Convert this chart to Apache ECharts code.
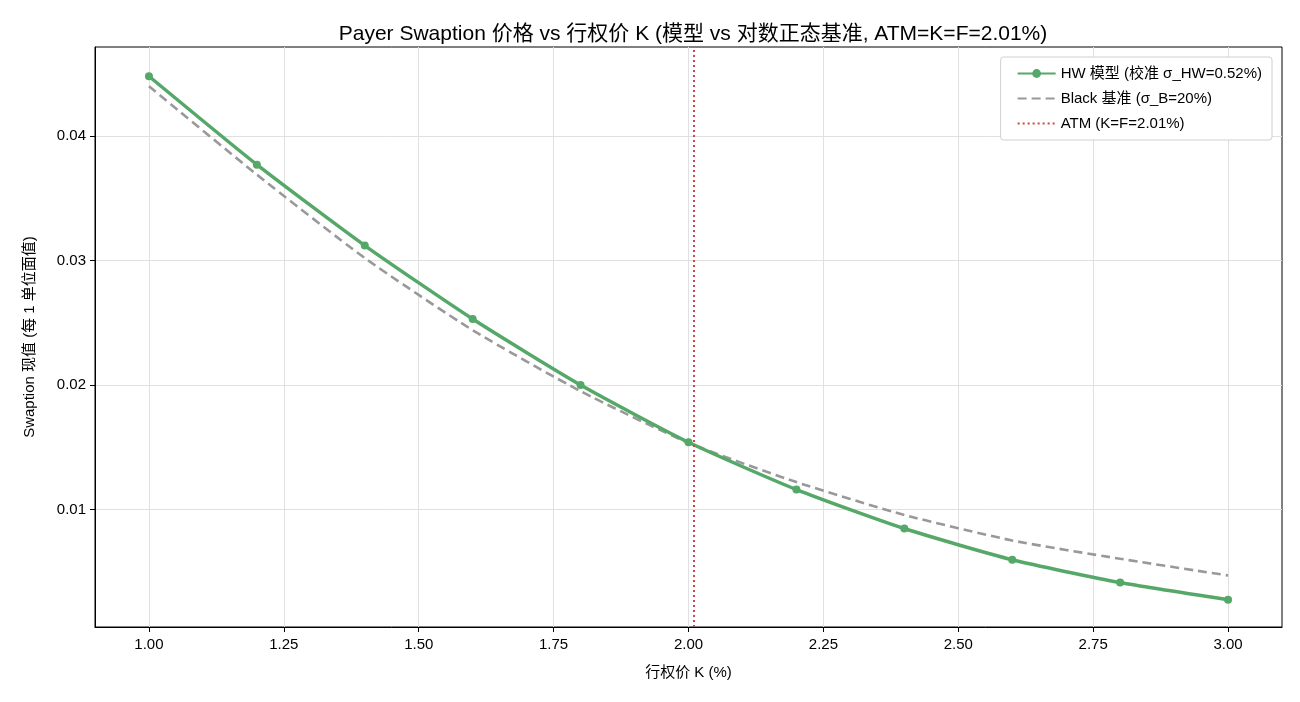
<!DOCTYPE html>
<html>
<head>
<meta charset="utf-8">
<script src="https://cdn.jsdelivr.net/npm/echarts@6/dist/echarts.min.js"></script>
<style>
  html, body { margin: 0; padding: 0; background: #fff; }
  #main { width: 1300px; height: 702px; }
</style>
</head>
<body>
<div id="main"></div>
<script>
var strikes = [1.0, 1.2, 1.4, 1.6, 1.8, 2.0, 2.2, 2.4, 2.6, 2.8, 3.0];
var hwPrices = [0.0448, 0.0377, 0.0312, 0.0253, 0.0200, 0.0154, 0.0116, 0.00847, 0.00596, 0.00413, 0.00275];
var blackPrices = [0.0440, 0.0369, 0.0302, 0.0244, 0.0195, 0.01535, 0.0122, 0.00956, 0.00751, 0.00604, 0.00470];
var xTicks = [1.0, 1.25, 1.5, 1.75, 2.0, 2.25, 2.5, 2.75, 3.0];
var yTicks = [0.01, 0.02, 0.03, 0.04];
var atmStrike = 2.01;

function pairs(xs, ys) {
	var out = [];
	for (var i = 0; i < xs.length; i++) out.push([xs[i], ys[i]]);
	return out;
}

var fontFamily = '"Liberation Sans", Arial, "Noto Sans CJK SC", sans-serif';

var option = {
	backgroundColor: '#fff',
	animation: false,
	textStyle: { fontFamily: fontFamily },
	title: {
		text: 'Payer Swaption 价格 vs 行权价 K (模型 vs 对数正态基准, ATM=K=F=2.01%)',
		left: 688,
		textAlign: 'center',
		top: 19,
		textStyle: { fontSize: 21, fontWeight: 'normal', color: '#000', fontFamily: fontFamily }
	},
	legend: {
		orient: 'vertical',
		right: 28,
		top: 57,
		padding: [9, 10, 9, 16],
		itemGap: 10,
		itemWidth: 38,
		itemHeight: 11,
		backgroundColor: '#fff',
		borderColor: '#d0d0d0',
		borderWidth: 1,
		borderRadius: 3,
		textStyle: { fontSize: 15, color: '#000', fontFamily: fontFamily },
		data: [
			{ name: 'HW 模型 (校准 σ_HW=0.52%)' },
			{ name: 'Black 基准 (σ_B=20%)', itemStyle: { opacity: 0 } },
			{ name: 'ATM (K=F=2.01%)', itemStyle: { opacity: 0 } }
		]
	},
	grid: {
		left: 95,
		right: 18,
		top: 47,
		bottom: 75,
		show: true,
		borderColor: '#000',
		borderWidth: 1
	},
	xAxis: {
		type: 'value',
		min: 0.9,
		max: 3.1,
		name: '行权价 K (%)',
		nameLocation: 'middle',
		nameGap: 38,
		nameTextStyle: { fontSize: 15, color: '#000' },
		axisLine: { show: true, lineStyle: { color: '#000', width: 1 } },
		axisTick: { show: true, inside: false, length: 5, lineStyle: { color: '#000', width: 1 }, customValues: xTicks },
		axisLabel: {
			fontSize: 15, color: '#000', margin: 10,
			customValues: xTicks,
			formatter: function (v) { return v.toFixed(2); }
		},
		splitLine: { show: true, lineStyle: { color: '#e0e0e0', width: 1 } }
	},
	yAxis: {
		type: 'value',
		min: 0.00056,
		max: 0.04715,
		name: 'Swaption 现值 (每 1 单位面值)',
		nameLocation: 'middle',
		nameGap: 58,
		nameTextStyle: { fontSize: 15, color: '#000' },
		axisLine: { show: true, lineStyle: { color: '#000', width: 1 } },
		axisTick: { show: true, inside: false, length: 5, lineStyle: { color: '#000', width: 1 }, customValues: yTicks },
		axisLabel: {
			fontSize: 15, color: '#000', margin: 9,
			customValues: yTicks,
			formatter: function (v) { return v.toFixed(2); }
		},
		splitLine: { show: true, lineStyle: { color: '#e0e0e0', width: 1 } }
	},
	series: [
		{
			name: 'Black 基准 (σ_B=20%)',
			type: 'line',
			data: pairs(strikes, blackPrices),
			showSymbol: false,
			symbol: 'none',
			smooth: 0.2,
			z: 2,
			lineStyle: { color: '#999999', width: 2.6, type: [9, 5] },
			itemStyle: { color: '#999999' }
		},
		{
			name: 'HW 模型 (校准 σ_HW=0.52%)',
			type: 'line',
			data: pairs(strikes, hwPrices),
			symbol: 'circle',
			symbolSize: 8,
			smooth: 0.2,
			z: 3,
			lineStyle: { color: '#55a868', width: 3.5 },
			itemStyle: { color: '#55a868' }
		},
		{
			name: 'ATM (K=F=2.01%)',
			type: 'line',
			data: [],
			symbol: 'none',
			z: 4,
			lineStyle: { color: '#d04545', width: 2, type: [2, 3] },
			itemStyle: { color: '#d04545' },
			markLine: {
				silent: true,
				symbol: 'none',
				label: { show: false },
				lineStyle: { color: '#d04545', width: 2, type: [2, 3] },
				data: [{ xAxis: atmStrike }]
			}
		}
	]
};

var myChart = echarts.init(document.getElementById('main'));
myChart.setOption(option);
</script>
</body>
</html>
